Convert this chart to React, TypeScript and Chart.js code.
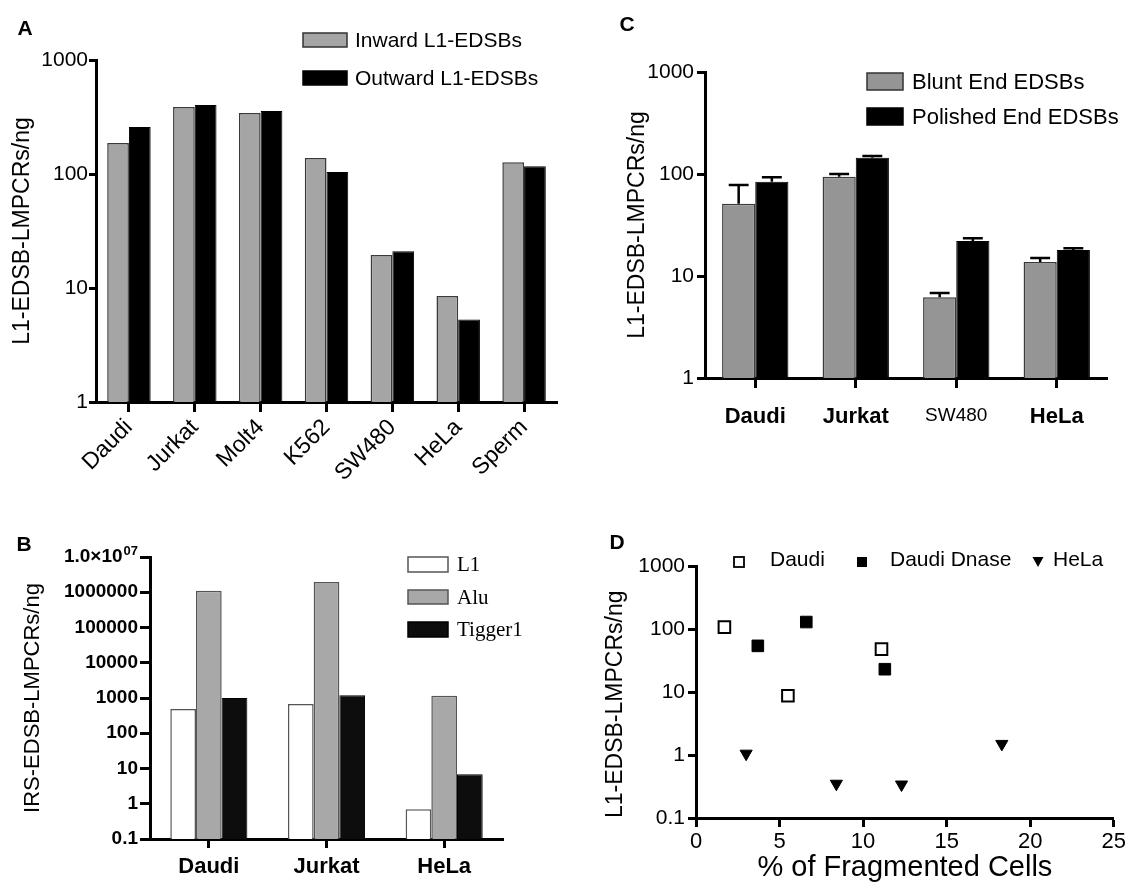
import React, { useEffect, useRef } from 'react';
import { Chart, registerables } from 'chart.js';
Chart.register(...registerables);

const FONT = "'Liberation Sans', Arial, Helvetica, sans-serif";
const SERIF = "'Liberation Serif', 'Times New Roman', serif";
Chart.defaults.color = '#000';
Chart.defaults.font.family = FONT;

// ---------- Panel A ----------
const aCategories = ['Daudi', 'Jurkat', 'Molt4', 'K562', 'SW480', 'HeLa', 'Sperm'];
const aInward = [187, 387, 343, 138, 19.5, 8.5, 127];
const aOutward = [258, 403, 357, 104, 21, 5.3, 117];
const aTicks = [1, 10, 100, 1000];

// ---------- Panel B ----------
const bCategories = ['Daudi', 'Jurkat', 'HeLa'];
const bL1 = [490, 680, 0.7];
const bAlu = [1100000, 1950000, 1150];
const bTigger1 = [1000, 1200, 6.9];
const bTickValues = [0.1, 1, 10, 100, 1000, 10000, 100000, 1000000, 10000000];
const bTickLabels = ['0.1', '1', '10', '100', '1000', '10000', '100000', '1000000', '1.0×10'];
const bTopExponent = '07';

// ---------- Panel C ----------
const cCategories = ['Daudi', 'Jurkat', 'SW480', 'HeLa'];
const cBlunt = [51, 94, 6.2, 13.7];
const cBluntErr = [27, 6, 0.6, 1.3];
const cPolished = [84, 144, 22, 18];
const cPolishedErr = [9, 6, 1.5, 0.7];
const cTicks = [1, 10, 100, 1000];

// ---------- Panel D ----------
const dDaudiX = [1.7, 5.5, 11.1];
const dDaudiY = [107, 8.7, 48];
const dDnaseX = [3.7, 6.6, 11.3];
const dDnaseY = [54, 129, 23];
const dHelaX = [3.0, 8.4, 12.3, 18.3];
const dHelaY = [1.05, 0.35, 0.34, 1.5];
const dYTicks = [0.1, 1, 10, 100, 1000];
const dXTicks = [0, 5, 10, 15, 20, 25];

const BLACK = '#000';

function gridOpts(tickLength: number) {
  return {
    display: true,
    drawOnChartArea: false,
    drawTicks: true,
    tickLength,
    tickWidth: 3,
    color: BLACK,
    tickColor: BLACK,
    offset: false,
  };
}
const borderOpts = { display: true, color: BLACK, width: 3 };

function logY(min: number, max: number, ticks: number[], width: number, opts: any) {
  return {
    type: 'logarithmic',
    position: 'left',
    min,
    max,
    afterBuildTicks: (s: any) => {
      s.ticks = ticks.map((v) => ({ value: v }));
    },
    afterFit: (s: any) => {
      s.width = width;
    },
    border: borderOpts,
    grid: gridOpts(opts.tickLength),
    ticks: {
      color: BLACK,
      font: opts.font,
      padding: opts.padding,
      autoSkip: false,
      callback: opts.callback,
    },
    title: {
      display: true,
      text: opts.title,
      color: BLACK,
      font: opts.titleFont,
      align: opts.titleAlign || 'center',
      padding: { top: opts.titlePad, bottom: 0 },
    },
  };
}

function decor(id: string, draw: (ctx: CanvasRenderingContext2D, chart: any) => void) {
  return {
    id,
    afterDraw(chart: any) {
      const ctx = chart.ctx as CanvasRenderingContext2D;
      ctx.save();
      draw(ctx, chart);
      ctx.restore();
    },
  };
}

function panelLetter(ctx: CanvasRenderingContext2D, t: string, x: number, y: number) {
  ctx.fillStyle = BLACK;
  ctx.font = `bold 21px ${FONT}`;
  ctx.textAlign = 'center';
  ctx.textBaseline = 'middle';
  ctx.fillText(t, x, y);
}

function legendBox(
  ctx: CanvasRenderingContext2D,
  x: number, y: number, w: number, h: number,
  fill: string, stroke: string,
  text: string, tx: number, font: string
) {
  ctx.fillStyle = fill;
  ctx.fillRect(x, y, w, h);
  ctx.strokeStyle = stroke;
  ctx.lineWidth = 1.5;
  ctx.strokeRect(x, y, w, h);
  ctx.fillStyle = BLACK;
  ctx.font = font;
  ctx.textAlign = 'left';
  ctx.textBaseline = 'middle';
  ctx.fillText(text, tx, y + h / 2 + 1);
}

// ---------- configs ----------
function makeA(): any {
  return {
    type: 'bar',
    data: {
      labels: aCategories,
      datasets: [
        { label: 'Inward L1-EDSBs', data: aInward, backgroundColor: '#a5a5a5', borderColor: '#3a3a3a', borderWidth: 1.5, categoryPercentage: 0.66, barPercentage: 1 },
        { label: 'Outward L1-EDSBs', data: aOutward, backgroundColor: '#000', borderColor: '#000', borderWidth: 1, categoryPercentage: 0.66, barPercentage: 1 },
      ],
    },
    options: {
      responsive: false,
      animation: false,
      layout: { padding: { top: 60, right: 3, bottom: 0, left: 0 } },
      plugins: { legend: { display: false }, tooltip: { enabled: false } },
      scales: {
        x: {
          type: 'category',
          afterFit: (s: any) => { s.height = 88; },
          border: borderOpts,
          grid: gridOpts(10),
          ticks: { color: BLACK, font: { size: 23 }, minRotation: 45, maxRotation: 45, padding: 2, autoSkip: false },
        },
        y: logY(1, 1000, aTicks, 96, {
          tickLength: 7, padding: 1, font: { size: 21 },
          callback: (v: number) => String(v),
          title: 'L1-EDSB-LMPCRs/ng', titleFont: { size: 23 }, titlePad: 9,
        }),
      },
    },
    plugins: [
      decor('decorA', (ctx, chart) => {
        panelLetter(ctx, 'A', 25, 29);
        const ds = chart.data.datasets;
        legendBox(ctx, 303, 33, 44, 14, ds[0].backgroundColor, '#333', ds[0].label, 355, `21px ${FONT}`);
        legendBox(ctx, 303, 71, 44, 14, ds[1].backgroundColor, '#000', ds[1].label, 355, `21px ${FONT}`);
      }),
    ],
  };
}

function makeB(): any {
  return {
    type: 'bar',
    data: {
      labels: bCategories,
      datasets: [
        { label: 'L1', data: bL1, backgroundColor: '#ffffff', borderColor: '#555', borderWidth: 1.5, categoryPercentage: 0.655, barPercentage: 1 },
        { label: 'Alu', data: bAlu, backgroundColor: '#a8a8a8', borderColor: '#555', borderWidth: 1.5, categoryPercentage: 0.655, barPercentage: 1 },
        { label: 'Tigger1', data: bTigger1, backgroundColor: '#0d0d0d', borderColor: '#000', borderWidth: 1, categoryPercentage: 0.655, barPercentage: 1 },
      ],
    },
    options: {
      responsive: false,
      animation: false,
      layout: { padding: { top: 67, right: 57, bottom: 0, left: 0 } },
      plugins: { legend: { display: false }, tooltip: { enabled: false } },
      scales: {
        x: {
          type: 'category',
          afterFit: (s: any) => { s.height = 43; },
          border: borderOpts,
          grid: gridOpts(9),
          ticks: { color: BLACK, font: { size: 22, weight: 'bold' }, maxRotation: 0, padding: 6, autoSkip: false },
        },
        y: logY(0.1, 10000000, bTickValues, 150, {
          tickLength: 10, padding: 2, font: { size: 19, weight: 'bold' },
          callback: (_v: number, i: number) => (i === bTickLabels.length - 1 ? '' : bTickLabels[i] ?? ''),
          title: 'IRS-EDSB-LMPCRs/ng', titleFont: { size: 22 }, titlePad: 20,
        }),
      },
    },
    plugins: [
      decor('decorB', (ctx, chart) => {
        panelLetter(ctx, 'B', 24, 55);
        // top tick label with superscript exponent
        const y = chart.scales.y;
        const ty = y.getPixelForValue(bTickValues[bTickValues.length - 1]);
        const right = y.right - 12;
        ctx.fillStyle = BLACK;
        ctx.textBaseline = 'middle';
        ctx.textAlign = 'right';
        ctx.font = `bold 13px ${FONT}`;
        const expW = ctx.measureText(bTopExponent).width;
        ctx.fillText(bTopExponent, right, ty - 6);
        ctx.font = `bold 19px ${FONT}`;
        ctx.fillText(bTickLabels[bTickLabels.length - 1], right - expW - 1, ty);

        const ds = chart.data.datasets;
        const f = `21px ${SERIF}`;
        legendBox(ctx, 408, 67, 40, 15, ds[0].backgroundColor, '#555', ds[0].label, 457, f);
        legendBox(ctx, 408, 100, 40, 14, ds[1].backgroundColor, '#555', ds[1].label, 457, f);
        legendBox(ctx, 408, 132, 40, 15, ds[2].backgroundColor, '#000', ds[2].label, 457, f);
      }),
    ],
  };
}

function makeC(): any {
  const errs = [cBluntErr, cPolishedErr];
  return {
    type: 'bar',
    data: {
      labels: cCategories,
      datasets: [
        { label: 'Blunt End EDSBs', data: cBlunt, backgroundColor: '#959595', borderColor: '#3a3a3a', borderWidth: 1.5, categoryPercentage: 0.66, barPercentage: 1 },
        { label: 'Polished End EDSBs', data: cPolished, backgroundColor: '#000', borderColor: '#000', borderWidth: 1, categoryPercentage: 0.66, barPercentage: 1 },
      ],
    },
    options: {
      responsive: false,
      animation: false,
      layout: { padding: { top: 72, right: 21, bottom: 0, left: 0 } },
      plugins: { legend: { display: false }, tooltip: { enabled: false } },
      scales: {
        x: {
          type: 'category',
          afterFit: (s: any) => { s.height = 62; },
          border: borderOpts,
          grid: gridOpts(10),
          ticks: {
            color: BLACK,
            maxRotation: 0,
            padding: 16,
            autoSkip: false,
            font: (c: any) => (c.index === 2 ? { size: 19, weight: 'normal' } : { size: 22, weight: 'bold' }),
          },
        },
        y: logY(1, 1000, cTicks, 145, {
          tickLength: 8, padding: 3, font: { size: 21 },
          callback: (v: number) => String(v),
          title: 'L1-EDSB-LMPCRs/ng', titleFont: { size: 23 }, titlePad: 64,
        }),
      },
    },
    plugins: [
      {
        id: 'errorBars',
        afterDatasetsDraw(chart: any) {
          const ctx = chart.ctx as CanvasRenderingContext2D;
          const y = chart.scales.y;
          ctx.save();
          ctx.strokeStyle = BLACK;
          ctx.lineWidth = 2.5;
          errs.forEach((e, di) => {
            const meta = chart.getDatasetMeta(di);
            const vals = chart.data.datasets[di].data as number[];
            meta.data.forEach((bar: any, i: number) => {
              const p = bar.getProps(['x', 'y', 'width'], true);
              const top = y.getPixelForValue(vals[i] + e[i]);
              const half = p.width * 0.3;
              ctx.beginPath();
              ctx.moveTo(p.x, p.y);
              ctx.lineTo(p.x, top);
              ctx.moveTo(p.x - half, top);
              ctx.lineTo(p.x + half, top);
              ctx.stroke();
            });
          });
          ctx.restore();
        },
      },
      decor('decorC', (ctx, chart) => {
        panelLetter(ctx, 'C', 67, 25);
        const ds = chart.data.datasets;
        legendBox(ctx, 307, 73, 36, 17, ds[0].backgroundColor, '#333', ds[0].label, 352, `22px ${FONT}`);
        legendBox(ctx, 307, 108, 36, 17, ds[1].backgroundColor, '#000', ds[1].label, 352, `22px ${FONT}`);
      }),
    ],
  };
}

function makeD(): any {
  const pts = (xs: number[], ys: number[]) => xs.map((x, i) => ({ x, y: ys[i] }));
  return {
    type: 'scatter',
    data: {
      datasets: [
        { label: 'Daudi', data: pts(dDaudiX, dDaudiY), pointStyle: 'rect', pointRadius: 8.2, backgroundColor: '#fff', borderColor: BLACK, borderWidth: 2 },
        { label: 'Daudi Dnase', data: pts(dDnaseX, dDnaseY), pointStyle: 'rect', pointRadius: 8.2, backgroundColor: BLACK, borderColor: BLACK, borderWidth: 1 },
        { label: 'HeLa', data: pts(dHelaX, dHelaY), pointStyle: 'triangle', pointRotation: 180, pointRadius: 7, backgroundColor: BLACK, borderColor: BLACK, borderWidth: 1 },
      ],
    },
    options: {
      responsive: false,
      animation: false,
      layout: { padding: { top: 76, right: 14, bottom: 0, left: 0 } },
      plugins: { legend: { display: false }, tooltip: { enabled: false } },
      scales: {
        x: {
          type: 'linear',
          min: 0,
          max: 25,
          afterBuildTicks: (s: any) => { s.ticks = dXTicks.map((v) => ({ value: v })); },
          afterFit: (s: any) => { s.height = 64; },
          border: borderOpts,
          grid: gridOpts(9),
          ticks: { color: BLACK, font: { size: 22 }, padding: 2, maxRotation: 0, autoSkip: false },
          title: { display: true, text: '% of Fragmented Cells', color: BLACK, font: { size: 29 }, padding: { top: 0, bottom: -3 } },
        },
        y: logY(0.1, 1000, dYTicks, 136, {
          tickLength: 8, padding: 3, font: { size: 21 },
          callback: (v: number) => String(v),
          title: 'L1-EDSB-LMPCRs/ng', titleFont: { size: 23 }, titlePad: 42, titleAlign: 'start',
        }),
      },
    },
    plugins: [
      decor('decorD', (ctx, chart) => {
        panelLetter(ctx, 'D', 57, 53);
        const ds = chart.data.datasets;
        const cy = 72;
        ctx.strokeStyle = BLACK;
        ctx.lineWidth = 1.8;
        ctx.fillStyle = '#fff';
        ctx.fillRect(174, cy - 5, 10, 10);
        ctx.strokeRect(174, cy - 5, 10, 10);
        ctx.fillStyle = BLACK;
        ctx.fillRect(297, cy - 5, 10, 10);
        ctx.beginPath();
        ctx.moveTo(472.5, cy - 5);
        ctx.lineTo(483.5, cy - 5);
        ctx.lineTo(478, cy + 5);
        ctx.closePath();
        ctx.fill();
        ctx.font = `21px ${FONT}`;
        ctx.textAlign = 'left';
        ctx.textBaseline = 'middle';
        ctx.fillText(ds[0].label, 210, 70);
        ctx.fillText(ds[1].label, 330, 70);
        ctx.fillText(ds[2].label, 493, 70);
      }),
    ],
  };
}

function ChartCanvas({ make, left, top, width, height }: { make: () => any; left: number; top: number; width: number; height: number }) {
  const ref = useRef<HTMLCanvasElement>(null);
  useEffect(() => {
    const chart = new Chart(ref.current as HTMLCanvasElement, make());
    return () => chart.destroy();
  }, [make]);
  return (
    <canvas
      ref={ref}
      width={width}
      height={height}
      style={{ position: 'absolute', left, top, width, height }}
    />
  );
}

export default function App() {
  return (
    <div style={{ position: 'fixed', left: 0, top: 0, width: 1128, height: 882, background: '#fff', overflow: 'hidden' }}>
      <ChartCanvas make={makeA} left={0} top={0} width={560} height={490} />
      <ChartCanvas make={makeC} left={560} top={0} width={568} height={440} />
      <ChartCanvas make={makeB} left={0} top={490} width={560} height={392} />
      <ChartCanvas make={makeD} left={560} top={490} width={568} height={392} />
    </div>
  );
}
